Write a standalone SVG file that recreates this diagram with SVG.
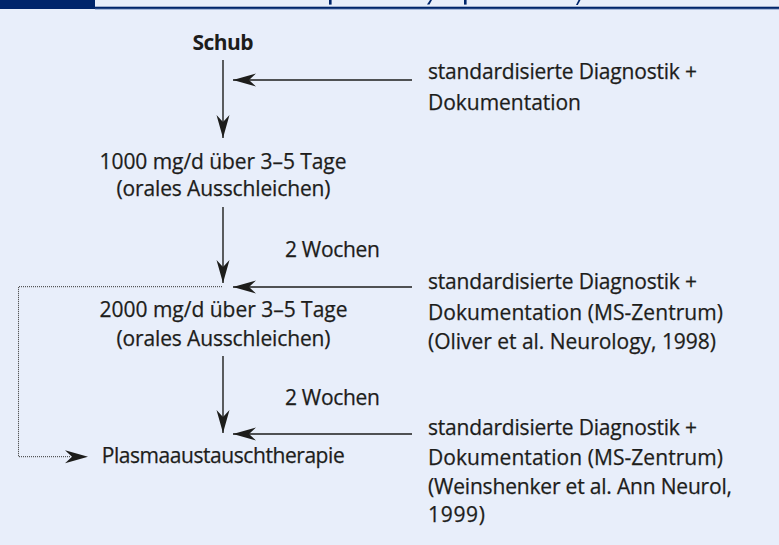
<svg xmlns="http://www.w3.org/2000/svg" width="779" height="545" viewBox="0 0 779 545">
<style>
  text { font-family: "Open Sans", "Liberation Sans", sans-serif; font-size: 21px; fill: #1d1d1b; stroke: #1d1d1b; stroke-width: 0.25; }
  .c { text-anchor: middle; }
  .b { font-weight: bold; stroke-width: 0; }
  .ln { stroke: #1d1d1b; stroke-width: 1.4; fill: none; }
  .dot { stroke: #333; stroke-width: 1; stroke-dasharray: 1 1; fill: none; }
</style>
<defs>
  <marker id="ah" markerUnits="userSpaceOnUse" markerWidth="26" markerHeight="16" viewBox="-24 -8 26 16" refX="0" refY="0" orient="auto">
    <path d="M0,0 L-23,-6.5 L-16,0 L-23,6.5 Z" fill="#1d1d1b"/>
  </marker>
</defs>
<rect x="0" y="0" width="779" height="545" fill="#e8eefa"/>
<g id="header">
  <rect x="0" y="0" width="95" height="9" fill="#00256b"/>
  <rect x="95" y="6.7" width="684" height="2.2" fill="#00256b"/>
  <rect x="95" y="8.9" width="684" height="0.8" fill="#8ea3cc"/>
  <rect x="329" y="0" width="2.6" height="4.6" fill="#00256b"/>
  <rect x="464" y="0" width="2.6" height="4.6" fill="#00256b"/>
  <path d="M427,4.6 L430,0 L432,0 L429.5,4.6 Z" fill="#00256b"/>
  <path d="M576,5 L578.5,0 L580.5,0 L577.8,5 Z" fill="#00256b"/>
</g>
<g id="connectors">
  <line class="ln" x1="223" y1="60" x2="223" y2="138" marker-end="url(#ah)"/>
  <line class="ln" x1="412" y1="80" x2="233" y2="80" marker-end="url(#ah)"/>
  <line class="ln" x1="223" y1="207" x2="223" y2="283" marker-end="url(#ah)"/>
  <line class="ln" x1="412" y1="287" x2="233" y2="287" marker-end="url(#ah)"/>
  <line class="ln" x1="223" y1="356" x2="223" y2="433" marker-end="url(#ah)"/>
  <line class="ln" x1="412" y1="434" x2="233" y2="434" marker-end="url(#ah)"/>
  <path class="dot" d="M222,286.7 H18.5 V456.7 H70"/>
  <line x1="70" y1="456.7" x2="88" y2="456.7" stroke="none" marker-end="url(#ah)"/>
</g>
<g id="schub">
  <text class="c b" x="223" y="50" textLength="61">Schub</text>
</g>
<g id="dosis1000">
  <text class="c" x="223" y="168.5" textLength="247">1000 mg/d über 3–5 Tage</text>
  <text class="c" x="223.5" y="196" textLength="214">(orales Ausschleichen)</text>
</g>
<g id="wochen1">
  <text x="285" y="256.7" textLength="95">2 Wochen</text>
</g>
<g id="dosis2000">
  <text class="c" x="223.5" y="317.3" textLength="248">2000 mg/d über 3–5 Tage</text>
  <text class="c" x="223.5" y="345.5" textLength="214">(orales Ausschleichen)</text>
</g>
<g id="wochen2">
  <text x="285" y="405" textLength="95">2 Wochen</text>
</g>
<g id="plasma">
  <text x="101.7" y="463.3" textLength="243">Plasmaaustauschtherapie</text>
</g>
<g id="diag1">
  <text x="428" y="79.3" textLength="269">standardisierte Diagnostik +</text>
  <text x="428" y="110" textLength="153">Dokumentation</text>
</g>
<g id="diag2">
  <text x="428" y="289.3" textLength="269">standardisierte Diagnostik +</text>
  <text x="428" y="319.5" textLength="295">Dokumentation (MS-Zentrum)</text>
  <text x="428" y="349.3" textLength="288">(Oliver et al. Neurology, 1998)</text>
</g>
<g id="diag3">
  <text x="428" y="435" textLength="269">standardisierte Diagnostik +</text>
  <text x="428" y="464.5" textLength="295">Dokumentation (MS-Zentrum)</text>
  <text x="428" y="494" textLength="304">(Weinshenker et al. Ann Neurol,</text>
  <text x="428" y="522" textLength="57">1999)</text>
</g>
</svg>
